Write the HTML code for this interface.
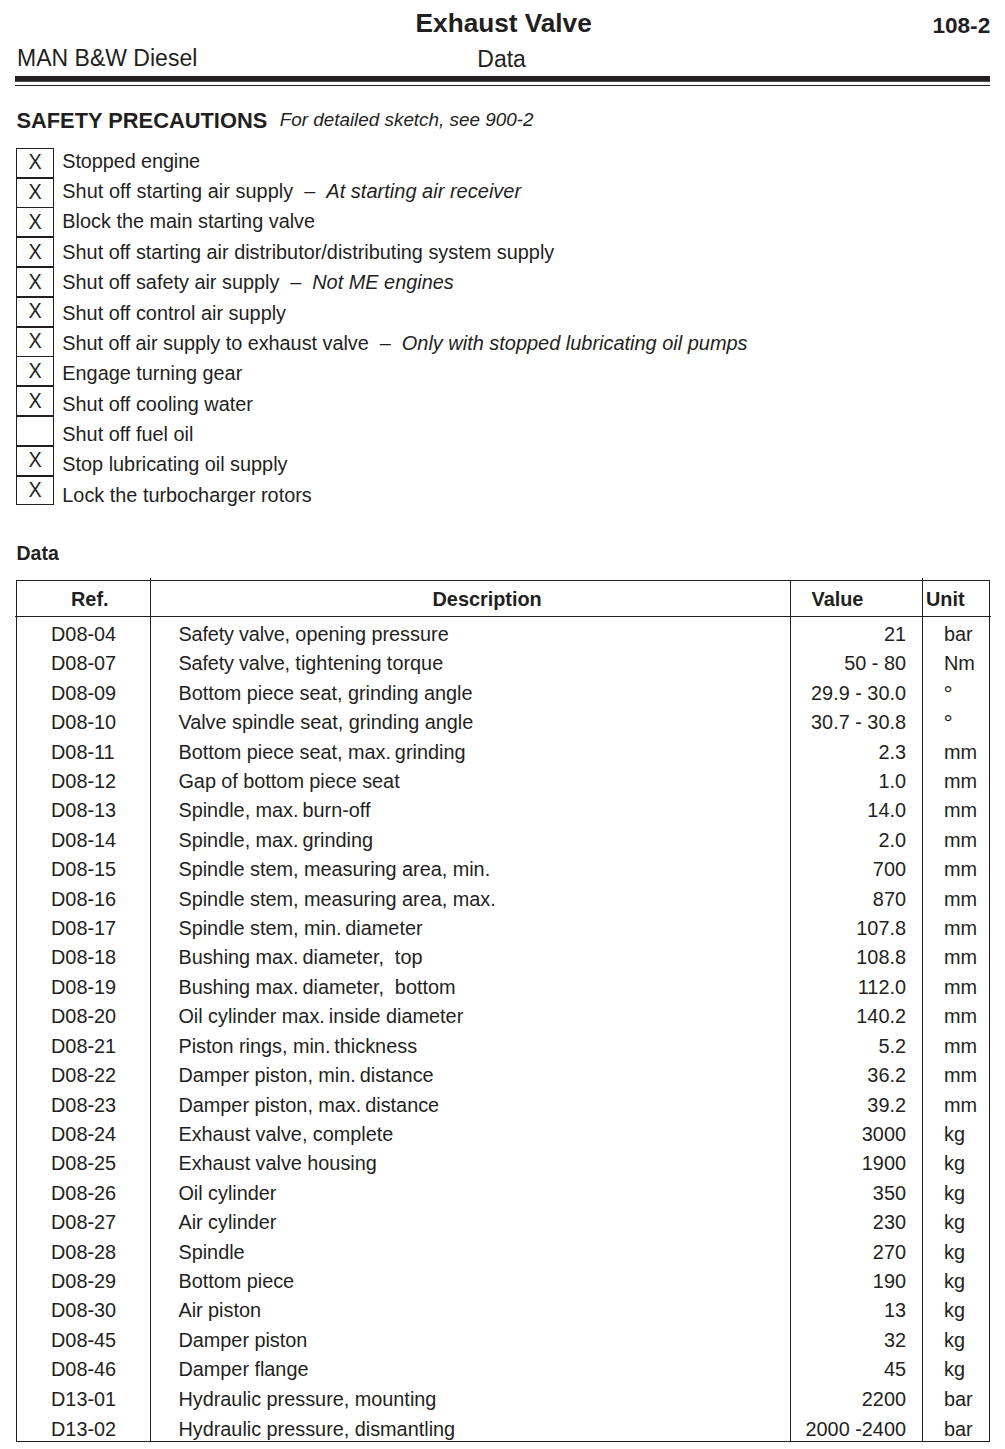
<!DOCTYPE html>
<html><head><meta charset="utf-8"><title>Exhaust Valve - Data</title>
<style>
html,body{margin:0;padding:0;background:#fff}
body{width:1005px;height:1449px;position:relative;overflow:hidden;font-family:"Liberation Sans",sans-serif;color:#231f20}
div{position:absolute;white-space:nowrap;font-size:19.87px;line-height:30px}
.b{font-weight:bold}
.d{word-spacing:-0.15px}
.n{margin-left:-1.5px}
.i,i{font-style:italic}
.ln{background:#231f20}
</style></head><body>
<div class="b" style="left:303.7px;width:400px;text-align:center;top:8px;font-size:26.2px">Exhaust Valve</div>
<div class="b" style="right:14.8px;top:11px;font-size:22.6px">108-2</div>
<div style="left:17.1px;top:43px;font-size:23px">MAN B&amp;W Diesel</div>
<div style="left:301.6px;width:400px;text-align:center;top:44px;font-size:23px">Data</div>
<div class="ln" style="left:15px;top:76px;width:975px;height:5px"></div>
<div class="ln" style="left:15px;top:81px;width:975px;height:1px;opacity:.8"></div>
<div class="ln" style="left:15px;top:85px;width:975px;height:1px"></div>
<div class="b" style="left:16.4px;top:106px;font-size:21.85px">SAFETY PRECAUTIONS</div>
<div class="i" style="left:279.7px;top:105px;font-size:18.87px">For detailed sketch, see 900-2</div>
<div class="ln" style="left:16px;top:148px;width:1px;height:357px"></div>
<div class="ln" style="left:53px;top:148px;width:1px;height:357px"></div>
<div class="ln" style="left:16px;top:148px;width:38px;height:1px"></div>
<div class="ln" style="left:16px;top:177px;width:38px;height:2px"></div>
<div class="ln" style="left:16px;top:207px;width:38px;height:1px"></div>
<div class="ln" style="left:16px;top:236px;width:38px;height:2px"></div>
<div class="ln" style="left:16px;top:266px;width:38px;height:2px"></div>
<div class="ln" style="left:16px;top:296px;width:38px;height:2px"></div>
<div class="ln" style="left:16px;top:326px;width:38px;height:2px"></div>
<div class="ln" style="left:16px;top:356px;width:38px;height:1px"></div>
<div class="ln" style="left:16px;top:385px;width:38px;height:2px"></div>
<div class="ln" style="left:16px;top:415px;width:38px;height:2px"></div>
<div class="ln" style="left:16px;top:445px;width:38px;height:2px"></div>
<div class="ln" style="left:16px;top:475px;width:38px;height:2px"></div>
<div class="ln" style="left:16px;top:504px;width:38px;height:1px"></div>
<div style="left:16px;width:38px;text-align:center;top:147px;font-size:21.3px;transform:scaleX(.93)">X</div>
<div style="left:62.3px;top:146px"><span style="letter-spacing:-0.1px">Stopped engine</span></div>
<div style="left:16px;width:38px;text-align:center;top:177px;font-size:21.3px;transform:scaleX(.93)">X</div>
<div style="left:62.3px;top:176px"><span style="letter-spacing:0.06px">Shut off starting air supply</span><span style="margin-left:0px"> &nbsp;&ndash;&nbsp; </span><i style="font-size:20.05px">At starting air receiver</i></div>
<div style="left:16px;width:38px;text-align:center;top:207px;font-size:21.3px;transform:scaleX(.93)">X</div>
<div style="left:62.3px;top:206px">Block the main starting valve</div>
<div style="left:16px;width:38px;text-align:center;top:237px;font-size:21.3px;transform:scaleX(.93)">X</div>
<div style="left:62.3px;top:237px">Shut off starting air distributor/distributing system supply</div>
<div style="left:16px;width:38px;text-align:center;top:267px;font-size:21.3px;transform:scaleX(.93)">X</div>
<div style="left:62.3px;top:267px">Shut off safety air supply<span style="margin-left:-0.3px"> &nbsp;&ndash;&nbsp; </span><i style="font-size:19.9px">Not ME engines</i></div>
<div style="left:16px;width:38px;text-align:center;top:296px;font-size:21.3px;transform:scaleX(.93)">X</div>
<div style="left:62.3px;top:298px">Shut off control air supply</div>
<div style="left:16px;width:38px;text-align:center;top:326px;font-size:21.3px;transform:scaleX(.93)">X</div>
<div style="left:62.3px;top:328px"><span style="letter-spacing:-0.035px">Shut off air supply to exhaust valve</span><span style="margin-left:0px"> &nbsp;&ndash;&nbsp; </span><i style="font-size:19.94px">Only with stopped lubricating oil pumps</i></div>
<div style="left:16px;width:38px;text-align:center;top:356px;font-size:21.3px;transform:scaleX(.93)">X</div>
<div style="left:62.3px;top:358px">Engage turning gear</div>
<div style="left:16px;width:38px;text-align:center;top:386px;font-size:21.3px;transform:scaleX(.93)">X</div>
<div style="left:62.3px;top:389px">Shut off cooling water</div>
<div style="left:62.3px;top:419px">Shut off fuel oil</div>
<div style="left:16px;width:38px;text-align:center;top:445px;font-size:21.3px;transform:scaleX(.93)">X</div>
<div style="left:62.3px;top:449px">Stop lubricating oil supply</div>
<div style="left:16px;width:38px;text-align:center;top:475px;font-size:21.3px;transform:scaleX(.93)">X</div>
<div style="left:62.3px;top:480px">Lock the turbocharger rotors</div>
<div class="b" style="left:16.5px;top:538px;font-size:19.5px">Data</div>
<div class="ln" style="left:16px;top:580px;width:974px;height:1px"></div>
<div class="ln" style="left:15px;top:616px;width:976px;height:1px"></div>
<div class="ln" style="left:16px;top:1441px;width:974px;height:1px"></div>
<div class="ln" style="left:16px;top:580px;width:1px;height:862px"></div>
<div class="ln" style="left:150px;top:578px;width:1px;height:864px"></div>
<div class="ln" style="left:790px;top:580px;width:1px;height:862px"></div>
<div class="ln" style="left:922px;top:578px;width:1px;height:864px"></div>
<div class="ln" style="left:989px;top:580px;width:1px;height:862px"></div>
<div class="b" style="left:71px;top:584px">Ref.</div>
<div class="b" style="left:432.5px;top:584px">Description</div>
<div class="b" style="left:811.5px;top:584px">Value</div>
<div class="b" style="left:926px;top:584px">Unit</div>
<div style="left:51px;top:619px">D08-04</div>
<div class="d" style="left:178.4px;top:619px"><span style="letter-spacing:-0.15px">Safety valve,</span> opening pressure</div>
<div style="right:99px;top:619px">21</div>
<div style="left:944px;top:619px">bar</div>
<div style="left:51px;top:648px">D08-07</div>
<div class="d" style="left:178.4px;top:648px"><span style="letter-spacing:-0.15px">Safety valve,</span> tightening torque</div>
<div style="right:99px;top:648px">50 - 80</div>
<div style="left:944px;top:648px">Nm</div>
<div style="left:51px;top:678px">D08-09</div>
<div class="d" style="left:178.4px;top:678px">Bottom piece seat, grinding angle</div>
<div style="right:99px;top:678px">29.9 - 30.0</div>
<div style="left:943.6px;top:679px;font-size:23px">&deg;</div>
<div style="left:51px;top:707px">D08-10</div>
<div class="d" style="left:178.4px;top:707px">Valve spindle seat, grinding angle</div>
<div style="right:99px;top:707px">30.7 - 30.8</div>
<div style="left:943.6px;top:708px;font-size:23px">&deg;</div>
<div style="left:51px;top:737px">D08-11</div>
<div class="d" style="left:178.4px;top:737px">Bottom piece seat, max.<span class="n"> </span>grinding</div>
<div style="right:99px;top:737px">2.3</div>
<div style="left:944px;top:737px">mm</div>
<div style="left:51px;top:766px">D08-12</div>
<div class="d" style="left:178.4px;top:766px">Gap of bottom piece seat</div>
<div style="right:99px;top:766px">1.0</div>
<div style="left:944px;top:766px">mm</div>
<div style="left:51px;top:795px">D08-13</div>
<div class="d" style="left:178.4px;top:795px">Spindle, max.<span class="n"> </span>burn-off</div>
<div style="right:99px;top:795px">14.0</div>
<div style="left:944px;top:795px">mm</div>
<div style="left:51px;top:825px">D08-14</div>
<div class="d" style="left:178.4px;top:825px">Spindle, max.<span class="n"> </span>grinding</div>
<div style="right:99px;top:825px">2.0</div>
<div style="left:944px;top:825px">mm</div>
<div style="left:51px;top:854px">D08-15</div>
<div class="d" style="left:178.4px;top:854px">Spindle stem, measuring area, min.</div>
<div style="right:99px;top:854px">700</div>
<div style="left:944px;top:854px">mm</div>
<div style="left:51px;top:884px">D08-16</div>
<div class="d" style="left:178.4px;top:884px">Spindle stem, measuring area, max.</div>
<div style="right:99px;top:884px">870</div>
<div style="left:944px;top:884px">mm</div>
<div style="left:51px;top:913px">D08-17</div>
<div class="d" style="left:178.4px;top:913px">Spindle stem, min.<span class="n"> </span>diameter</div>
<div style="right:99px;top:913px">107.8</div>
<div style="left:944px;top:913px">mm</div>
<div style="left:51px;top:942px">D08-18</div>
<div class="d" style="left:178.4px;top:942px">Bushing max.<span class="n"> </span>diameter, &nbsp;top</div>
<div style="right:99px;top:942px">108.8</div>
<div style="left:944px;top:942px">mm</div>
<div style="left:51px;top:972px">D08-19</div>
<div class="d" style="left:178.4px;top:972px">Bushing max.<span class="n"> </span>diameter, &nbsp;bottom</div>
<div style="right:99px;top:972px">112.0</div>
<div style="left:944px;top:972px">mm</div>
<div style="left:51px;top:1001px">D08-20</div>
<div class="d" style="left:178.4px;top:1001px">Oil cylinder max.<span class="n"> </span>inside diameter</div>
<div style="right:99px;top:1001px">140.2</div>
<div style="left:944px;top:1001px">mm</div>
<div style="left:51px;top:1031px">D08-21</div>
<div class="d" style="left:178.4px;top:1031px">Piston rings, min.<span class="n"> </span>thickness</div>
<div style="right:99px;top:1031px">5.2</div>
<div style="left:944px;top:1031px">mm</div>
<div style="left:51px;top:1060px">D08-22</div>
<div class="d" style="left:178.4px;top:1060px">Damper piston, min.<span class="n"> </span>distance</div>
<div style="right:99px;top:1060px">36.2</div>
<div style="left:944px;top:1060px">mm</div>
<div style="left:51px;top:1090px">D08-23</div>
<div class="d" style="left:178.4px;top:1090px">Damper piston, max.<span class="n"> </span>distance</div>
<div style="right:99px;top:1090px">39.2</div>
<div style="left:944px;top:1090px">mm</div>
<div style="left:51px;top:1119px">D08-24</div>
<div class="d" style="left:178.4px;top:1119px">Exhaust valve, complete</div>
<div style="right:99px;top:1119px">3000</div>
<div style="left:944px;top:1119px">kg</div>
<div style="left:51px;top:1148px">D08-25</div>
<div class="d" style="left:178.4px;top:1148px">Exhaust valve housing</div>
<div style="right:99px;top:1148px">1900</div>
<div style="left:944px;top:1148px">kg</div>
<div style="left:51px;top:1178px">D08-26</div>
<div class="d" style="left:178.4px;top:1178px">Oil cylinder</div>
<div style="right:99px;top:1178px">350</div>
<div style="left:944px;top:1178px">kg</div>
<div style="left:51px;top:1207px">D08-27</div>
<div class="d" style="left:178.4px;top:1207px">Air cylinder</div>
<div style="right:99px;top:1207px">230</div>
<div style="left:944px;top:1207px">kg</div>
<div style="left:51px;top:1237px">D08-28</div>
<div class="d" style="left:178.4px;top:1237px">Spindle</div>
<div style="right:99px;top:1237px">270</div>
<div style="left:944px;top:1237px">kg</div>
<div style="left:51px;top:1266px">D08-29</div>
<div class="d" style="left:178.4px;top:1266px">Bottom piece</div>
<div style="right:99px;top:1266px">190</div>
<div style="left:944px;top:1266px">kg</div>
<div style="left:51px;top:1295px">D08-30</div>
<div class="d" style="left:178.4px;top:1295px">Air piston</div>
<div style="right:99px;top:1295px">13</div>
<div style="left:944px;top:1295px">kg</div>
<div style="left:51px;top:1325px">D08-45</div>
<div class="d" style="left:178.4px;top:1325px">Damper piston</div>
<div style="right:99px;top:1325px">32</div>
<div style="left:944px;top:1325px">kg</div>
<div style="left:51px;top:1354px">D08-46</div>
<div class="d" style="left:178.4px;top:1354px">Damper flange</div>
<div style="right:99px;top:1354px">45</div>
<div style="left:944px;top:1354px">kg</div>
<div style="left:51px;top:1384px">D13-01</div>
<div class="d" style="left:178.4px;top:1384px">Hydraulic pressure, mounting</div>
<div style="right:99px;top:1384px">2200</div>
<div style="left:944px;top:1384px">bar</div>
<div style="left:51px;top:1414px">D13-02</div>
<div class="d" style="left:178.4px;top:1414px">Hydraulic pressure, dismantling</div>
<div style="right:99px;top:1414px">2000 -2400</div>
<div style="left:944px;top:1414px">bar</div>
</body></html>
